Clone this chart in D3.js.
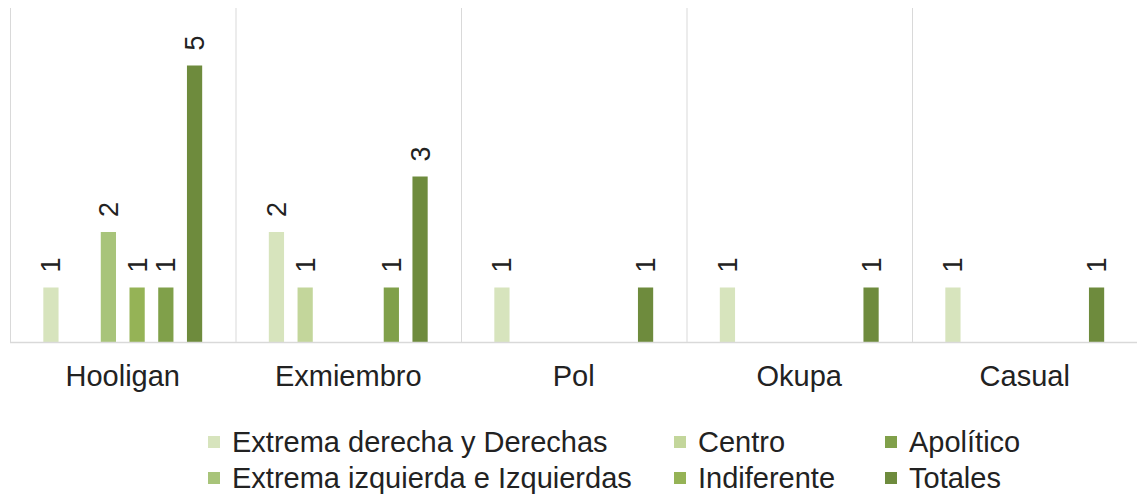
<!DOCTYPE html>
<html>
<head>
<meta charset="utf-8">
<script src="https://cdn.jsdelivr.net/npm/d3@7"></script>
<style>
  body { margin: 0; background: #fff; }
  text { font-family: "Liberation Sans", Arial, sans-serif; fill: #222; }
</style>
</head>
<body>
<script>
// categories along the x axis
const categories = ["Hooligan", "Exmiembro", "Pol", "Okupa", "Casual"];
// series, in bar order inside each group
const seriesNames = [
  "Extrema derecha y Derechas",
  "Centro",
  "Extrema izquierda e Izquierdas",
  "Indiferente",
  "Apolítico",
  "Totales"
];
const seriesColors = ["#d7e4bd", "#c3d69b", "#a8c47a", "#95b356", "#80a04a", "#6e8b3d"];
// values per series, one per category
const extremaDerecha   = [1, 2, 1, 1, 1];
const centro           = [0, 1, 0, 0, 0];
const extremaIzquierda = [2, 0, 0, 0, 0];
const indiferente      = [1, 0, 0, 0, 0];
const apolitico        = [1, 1, 0, 0, 0];
const totales          = [5, 3, 1, 1, 1];
const seriesValues = [extremaDerecha, centro, extremaIzquierda, indiferente, apolitico, totales];
// legend laid out column by column, like the original
const legendColumns = [[0, 2], [1, 3], [4, 5]];

const width = 1137, height = 494;

const rows = categories.map((c, i) => ({
  cat: c,
  values: seriesNames.map((s, j) => ({ series: s, idx: j, value: seriesValues[j][i] }))
}));

const x0 = d3.scaleBand().domain(categories).range([10, 1137.5]).padding(0);
const x1 = d3.scaleBand().domain(seriesNames).range([0, x0.bandwidth()])
  .paddingInner(0.47).paddingOuter(1.16);
const y = d3.scaleLinear().domain([0, 6]).range([343, 10]);

const svg = d3.create("svg").attr("width", width).attr("height", height);

// vertical separators between categories
svg.append("g")
  .selectAll("line")
  .data(categories)
  .join("line")
  .attr("x1", d => x0(d) + 0.5)
  .attr("x2", d => x0(d) + 0.5)
  .attr("y1", 8)
  .attr("y2", y(0))
  .attr("stroke", "#d9d9d9")
  .attr("stroke-width", 1);

// bars
const groups = svg.append("g")
  .selectAll("g")
  .data(rows)
  .join("g")
  .attr("transform", d => `translate(${x0(d.cat)},0)`);

groups.selectAll("rect")
  .data(d => d.values.filter(v => v.value > 0))
  .join("rect")
  .attr("x", d => x1(d.series))
  .attr("width", x1.bandwidth())
  .attr("y", d => y(d.value))
  .attr("height", d => y(0) - y(d.value))
  .attr("fill", d => seriesColors[d.idx]);

// value labels, rotated
groups.selectAll("text")
  .data(d => d.values.filter(v => v.value > 0))
  .join("text")
  .attr("transform", d => `translate(${x1(d.series) + x1.bandwidth() / 2},${y(d.value) - 22.5}) rotate(-90)`)
  .attr("text-anchor", "middle")
  .attr("dy", "0.35em")
  .style("font-size", "27px")
  .text(d => d.value);

// x axis baseline
svg.append("line")
  .attr("x1", 10).attr("x2", width)
  .attr("y1", y(0) - 0.5).attr("y2", y(0) - 0.5)
  .attr("stroke", "#d9d9d9")
  .attr("stroke-width", 1.5);

// category labels
svg.append("g")
  .selectAll("text")
  .data(categories)
  .join("text")
  .attr("x", d => x0(d) + x0.bandwidth() / 2)
  .attr("y", 386)
  .attr("text-anchor", "middle")
  .style("font-size", "29px")
  .text(d => d);

// legend
const colX = [208, 674, 885];
const rowY = [442, 478];
const legend = svg.append("g");
legendColumns.forEach((col, ci) => {
  col.forEach((si, ri) => {
    const g = legend.append("g").attr("transform", `translate(${colX[ci]},${rowY[ri]})`);
    g.append("rect")
      .attr("x", 0).attr("y", -6)
      .attr("width", 12).attr("height", 12)
      .attr("fill", seriesColors[si]);
    g.append("text")
      .attr("x", 24).attr("y", 0)
      .attr("dy", "0.35em")
      .style("font-size", "29px")
      .text(seriesNames[si]);
  });
});

document.body.appendChild(svg.node());
</script>
</body>
</html>
